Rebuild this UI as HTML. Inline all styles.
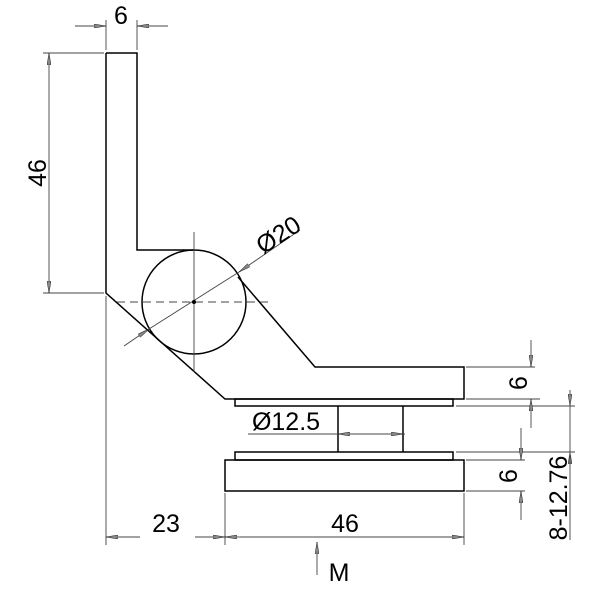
<!DOCTYPE html>
<html><head><style>body{margin:0;background:#fff}svg{display:block}</style></head><body>
<svg width="600" height="600" viewBox="0 0 600 600" xmlns="http://www.w3.org/2000/svg">
<defs>
<marker id="a" viewBox="0 0 12 4" refX="12" refY="2" markerWidth="12" markerHeight="4" markerUnits="userSpaceOnUse" orient="auto"><path d="M0,0 L12,2 L0,4 Z" fill="#888" stroke="#222" stroke-width="0.5"/></marker>
</defs>
<g fill="none" stroke="#000" stroke-width="1.5">
<path d="M106,53 L137,53 L137,250 L194,250"/>
<path d="M106,53 L106,293 L225,399 L464,399 L464,367 L315,367 L238,277"/>
<circle cx="194" cy="302" r="52"/>
<rect x="235" y="399" width="218" height="7"/>
<path d="M338,406 V452 M403,406 V452"/>
<rect x="235" y="452" width="218" height="8"/>
<rect x="225" y="460" width="239" height="31"/>
</g>
<g stroke="#444" stroke-width="0.9" fill="none">
<path d="M194,232 V372" />
<path d="M117,302 H272" stroke-dasharray="8,5"/>
<path d="M106,20 V50 M137,20 V50"/>
<path d="M75,26 H106" marker-end="url(#a)"/>
<path d="M168,26 H137" marker-end="url(#a)"/>
<path d="M43,53 H104 M43,293 H104"/>
<path d="M49,173 V53" marker-end="url(#a)"/>
<path d="M49,173 V293" marker-end="url(#a)"/>
<path d="M124,346 L149,329" marker-end="url(#a)"/>
<path d="M300,230 L239,272" marker-end="url(#a)"/>
<path d="M149,329 L239,272"/>
<path d="M466,367 H535 M466,399 H540 M456,406 H575 M456,452 H575 M466,460 H525 M466,491 H525"/>
<path d="M531,340 V367" marker-end="url(#a)"/>
<path d="M531,428 V399" marker-end="url(#a)"/>
<path d="M570,390 V406" marker-end="url(#a)"/>
<path d="M570,465 V452" marker-end="url(#a)"/>
<path d="M570,405 V540"/>
<path d="M521,428 V460" marker-end="url(#a)"/>
<path d="M521,520 V491" marker-end="url(#a)"/>
<path d="M248,434 H405"/>
<path d="M370,434 H338" marker-end="url(#a)"/>
<path d="M370,434 H403" marker-end="url(#a)"/>
<path d="M106,296 V545 M225,493 V545 M464,493 V545"/>
<path d="M195,537 H225" marker-end="url(#a)"/>
<path d="M140,537 H106" marker-end="url(#a)"/>
<path d="M240,537 H225" marker-end="url(#a)"/>
<path d="M240,537 H464" marker-end="url(#a)"/>
<path d="M317,575 V542" marker-end="url(#a)"/>
</g>
<g font-family="Liberation Sans, sans-serif" font-size="25" fill="#000">
<text x="121" y="24" text-anchor="middle">6</text>
<text transform="translate(46,173) rotate(-90)" text-anchor="middle">46</text>
<text transform="translate(283,242) rotate(-33)" text-anchor="middle">Ø20</text>
<text x="286" y="430" text-anchor="middle">Ø12.5</text>
<text transform="translate(527,383) rotate(-90)" text-anchor="middle">6</text>
<text transform="translate(517,476) rotate(-90)" text-anchor="middle">6</text>
<text transform="translate(567,498) rotate(-90)" text-anchor="middle">8-12.76</text>
<text x="166" y="532" text-anchor="middle">23</text>
<text x="345" y="532" text-anchor="middle">46</text>
<text x="339" y="581" text-anchor="middle">M</text>
</g>
<circle cx="194" cy="302" r="2" fill="#000"/>
</svg>
</body></html>
